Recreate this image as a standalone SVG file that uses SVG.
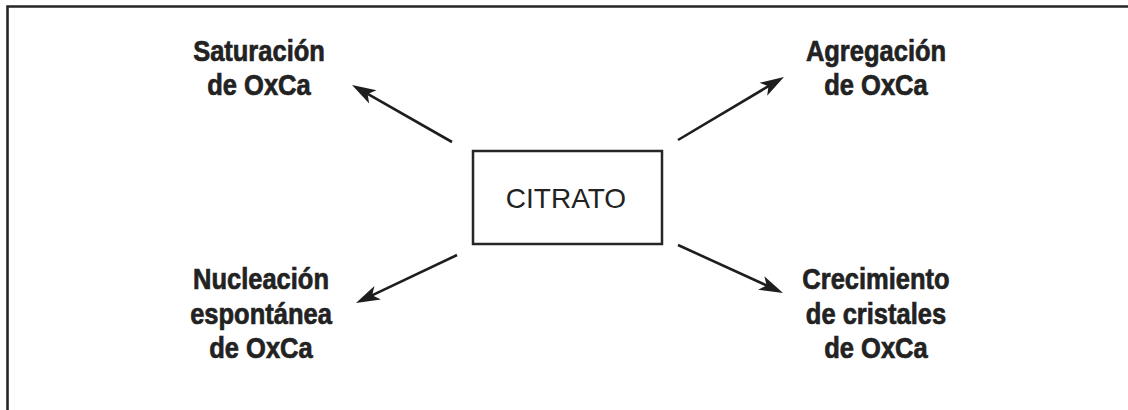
<svg xmlns="http://www.w3.org/2000/svg" width="1128" height="410" viewBox="0 0 1128 410">
  <defs>
    <style>
      .frame { fill: none; stroke: #262626; stroke-width: 2.6; }
      .box { fill: #ffffff; stroke: #262626; stroke-width: 2.5; }
      .arrow { fill: none; stroke: #1e1e1e; stroke-width: 2.6; marker-end: url(#head); }
      .center { font-family: "Liberation Sans", Arial, sans-serif; font-size: 28px; fill: #222; text-anchor: middle; }
      .label { font-family: "Liberation Sans", Arial, sans-serif; font-weight: bold; font-size: 30px; fill: #222; stroke: #222; stroke-width: 0.7; text-anchor: middle; }
    </style>
    <marker id="head" markerUnits="userSpaceOnUse" markerWidth="40" markerHeight="40" refX="0" refY="0" orient="auto" overflow="visible">
      <path d="M16,0 L-8,-7.5 L-2,0 L-8,7.5 Z" fill="#1e1e1e"/>
    </marker>
  </defs>

  <rect width="1128" height="410" fill="#ffffff"/>

  <!-- open frame: top and left edges -->
  <path class="frame" d="M7.5,410 V6.5 H1128"/>

  <g id="citrato">
    <rect class="box" x="473" y="151" width="189" height="93"/>
    <text class="center" x="566" y="208">CITRATO</text>
  </g>

  <g id="saturacion" transform="translate(259,0) scale(0.85,1)">
    <text class="label" x="0" y="61">Saturación</text>
    <text class="label" x="0" y="95">de OxCa</text>
  </g>

  <g id="agregacion" transform="translate(876,0) scale(0.85,1)">
    <text class="label" x="0" y="61">Agregación</text>
    <text class="label" x="0" y="95">de OxCa</text>
  </g>

  <g id="nucleacion" transform="translate(261,0) scale(0.85,1)">
    <text class="label" x="0" y="289">Nucleación</text>
    <text class="label" x="0" y="324">espontánea</text>
    <text class="label" x="0" y="358">de OxCa</text>
  </g>

  <g id="crecimiento" transform="translate(876,0) scale(0.85,1)">
    <text class="label" x="0" y="289">Crecimiento</text>
    <text class="label" x="0" y="324">de cristales</text>
    <text class="label" x="0" y="358">de OxCa</text>
  </g>

  <g id="connectors">
    <line class="arrow" x1="452" y1="142" x2="365.9" y2="92.9"/>
    <line class="arrow" x1="678" y1="140" x2="770.2" y2="85.2"/>
    <line class="arrow" x1="457" y1="255" x2="370.4" y2="296.1"/>
    <line class="arrow" x1="678" y1="245" x2="768.5" y2="286.3"/>
  </g>
</svg>
